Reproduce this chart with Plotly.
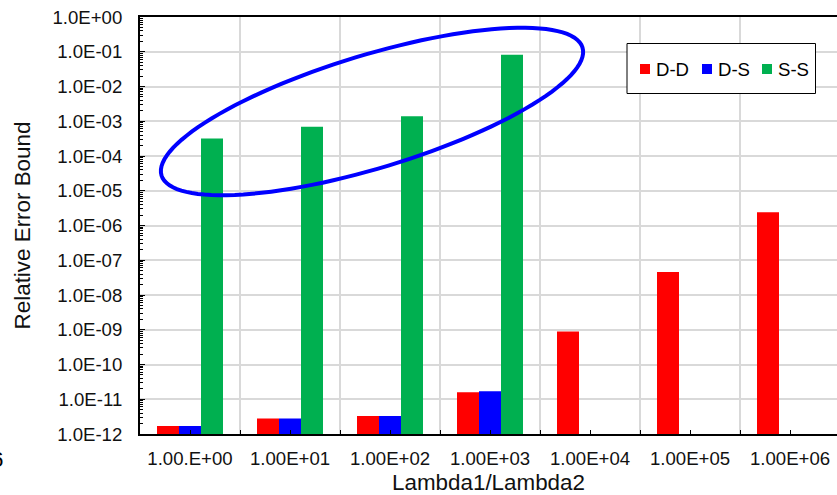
import numpy as np
import plotly.graph_objects as go

# ---- data ----
categories = ["1.00.E+00", "1.00E+01", "1.00E+02", "1.00E+03",
              "1.00E+04", "1.00E+05", "1.00E+06"]
dd_values = [1.7e-12, 2.8e-12, 3.3e-12, 1.6e-11, 8.9e-10, 4.6e-8, 2.4e-6]
ds_values = [1.7e-12, 2.8e-12, 3.3e-12, 1.7e-11, None, None, None]
ss_values = [3.2e-4, 7.0e-4, 1.4e-3, 8.2e-2, None, None, None]
series_names = ["D-D", "D-S", "S-S"]
series_colors = ["#FF0000", "#0000FF", "#00B050"]

y_tick_vals = [1e-12, 1e-11, 1e-10, 1e-9, 1e-8, 1e-7, 1e-6,
               1e-5, 1e-4, 1e-3, 1e-2, 1e-1, 1e0]
y_tick_text = ["1.0E-12", "1.0E-11", "1.0E-10", "1.0E-09", "1.0E-08",
               "1.0E-07", "1.0E-06", "1.0E-05", "1.0E-04", "1.0E-03",
               "1.0E-02", "1.0E-01", "1.0E+00"]

# ---- geometry ----
W, H = 837, 495
PL, PR, PT, PB = 140, 837, 17, 434   # plot area edges in pixels
FONT = "Liberation Sans, Arial, sans-serif"
TICK_SIZE = 18.6
TITLE_SIZE = 22.4


def fx(px):
    return (px - PL) / (PR - PL)


def fy(py):
    return (PB - py) / (PB - PT)


x_pos = list(range(len(categories)))

fig = go.Figure()
for name, vals, col in zip(series_names, [dd_values, ds_values, ss_values], series_colors):
    fig.add_trace(go.Bar(x=x_pos, y=vals, name=name, marker_color=col,
                         marker_line_width=0, showlegend=False))

# highlight ellipse around the S-S bars
cx, cy, a, b = 372.0, 111.5, 220.0, 56.5
th = np.radians(-16.9)
t = np.linspace(0, 2 * np.pi, 121)
ex = cx + a * np.cos(th) * np.cos(t) - b * np.sin(th) * np.sin(t)
ey = cy + a * np.sin(th) * np.cos(t) + b * np.cos(th) * np.sin(t)
path = "M " + " L ".join(f"{fx(u):.5f},{fy(v):.5f}" for u, v in zip(ex, ey)) + " Z"

shapes = [dict(type="path", path=path, xref="paper", yref="paper",
               line=dict(color="#0000FF", width=4), layer="above")]

# legend box
shapes.append(dict(type="rect", xref="paper", yref="paper",
                   x0=fx(627), x1=fx(815.5), y0=fy(93.5), y1=fy(43.5),
                   line=dict(color="black", width=1), fillcolor="white", layer="above"))
annotations = []
legend_x = [640, 702, 762]
for lx, name, col in zip(legend_x, series_names, series_colors):
    shapes.append(dict(type="rect", xref="paper", yref="paper",
                       x0=fx(lx), x1=fx(lx + 10), y0=fy(74), y1=fy(64),
                       line=dict(width=0), fillcolor=col, layer="above"))
    annotations.append(dict(text=name, xref="paper", yref="paper",
                            x=fx(lx + 14), y=fy(69.5), xanchor="left", yanchor="middle",
                            showarrow=False, font=dict(family=FONT, size=TICK_SIZE, color="black")))

# stray glyph at the lower-left edge
annotations.append(dict(text="6", xref="paper", yref="paper", x=fx(5), y=fy(459),
                        xanchor="right", yanchor="middle", showarrow=False,
                        font=dict(family=FONT, size=TITLE_SIZE, color="black")))

fig.update_layout(
    width=W, height=H,
    margin=dict(l=PL, r=W - PR, t=PT, b=H - PB),
    paper_bgcolor="white", plot_bgcolor="white",
    barmode="group", bargap=0.34, bargroupgap=0,
    font=dict(family=FONT, size=TICK_SIZE, color="black"),
    shapes=shapes, annotations=annotations,
)

fig.update_xaxes(
    range=[-0.5, -0.5 + (PR - PL) / 100.0],
    tickmode="array", tickvals=x_pos, ticktext=categories,
    ticks="inside", ticklen=4, tickcolor="black", tickwidth=1,
    showgrid=False, zeroline=False,
    showline=True, linecolor="black", linewidth=2, mirror=True,
    ticklabelstandoff=7,
    tickfont=dict(family=FONT, size=TICK_SIZE, color="#111"),
    minor=dict(tick0=0.5, dtick=1, ticks="inside", ticklen=4, tickcolor="black",
               showgrid=True, gridcolor="#D9D9D9", gridwidth=1.5),
    title=dict(text="Lambda1/Lambda2", standoff=8,
               font=dict(family=FONT, size=TITLE_SIZE, color="#111")),
)

fig.update_yaxes(
    type="log", range=[-12, 0],
    tickmode="array", tickvals=y_tick_vals, ticktext=y_tick_text,
    ticks="inside", ticklen=5, tickcolor="black",
    showgrid=True, gridcolor="#D9D9D9", gridwidth=1.5,
    showline=True, linecolor="black", linewidth=2, zeroline=False,
    ticklabelstandoff=12,
    tickfont=dict(family=FONT, size=TICK_SIZE, color="#111"),
    minor=dict(dtick="D1", ticks="inside", ticklen=3, tickcolor="black", showgrid=False),
    title=dict(text="Relative Error Bound", standoff=16,
               font=dict(family=FONT, size=TITLE_SIZE, color="#111")),
)

fig.write_html("out.html")
